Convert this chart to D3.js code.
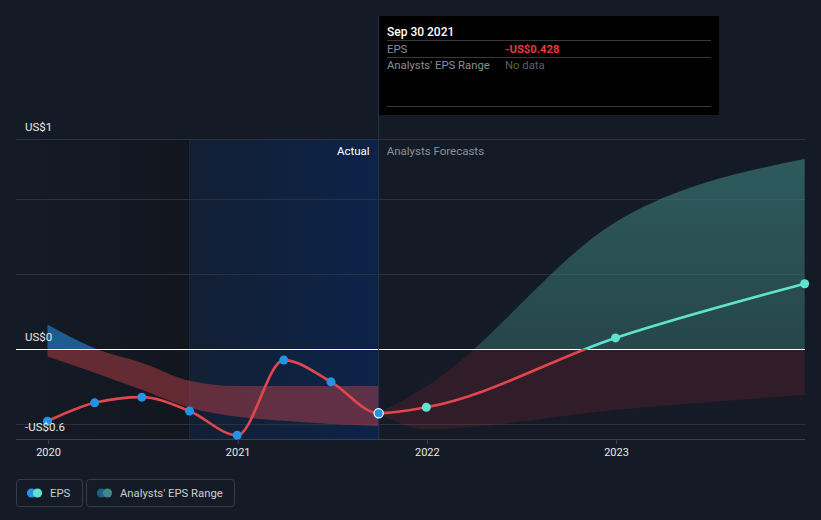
<!DOCTYPE html>
<html><head><meta charset="utf-8">
<script src="https://cdn.jsdelivr.net/npm/d3@7"></script>
<style>
html,body{margin:0;padding:0;background:#151b26;}
svg{display:block;font-family:Roboto,"Open Sans",sans-serif;}
</style></head>
<body><svg id="chart" width="821" height="520"></svg>
<script>
// ---------- data ----------
const actualDates = ["2019-12-31","2020-03-31","2020-06-30","2020-09-30","2020-12-31","2021-03-31","2021-06-30","2021-09-30"];
const actualEPS   = [-0.482, -0.359, -0.321, -0.413, -0.575, -0.074, -0.219, -0.428];
const pastRangeHigh = [0.163, 0.005, -0.092, -0.212, -0.247, -0.247, -0.247, -0.247];
const pastRangeLow  = [-0.05, -0.159, -0.272, -0.392, -0.451, -0.478, -0.5, -0.513];
const forecastDates = ["2021-09-30","2021-12-31","2022-12-31","2023-12-31"];
const forecastEPS   = [-0.428, -0.388, 0.074, 0.435];
const forecastHigh  = [-0.428, -0.25, 0.845, 1.266];
const forecastLow   = [-0.428, -0.535, -0.406, -0.306];
const xTickYears = ["2020","2021","2022","2023"];
const yGridValues = [1.4, 1, 0.5, 0, -0.5];
const yTickValues = [1.4, 0, -0.6];
const yTickLabels = ["US$1", "US$0", "-US$0.6"];
const tooltipDate = "Sep 30 2021";
const tooltipEPS = "-US$0.428";
const legendItems = ["EPS", "Analysts' EPS Range"];

// ---------- setup ----------
const parse = d3.timeParse("%Y-%m-%d");
const svg = d3.select("#chart");
const x = d3.scaleTime().domain([parse("2020-01-01"), parse("2023-01-01")]).range([48, 616]);
const y = d3.scaleLinear().domain([-0.6, 1.4]).range([439, 139]);
const left = 16, right = 805;
const y0 = y(0);
const actual = actualDates.map((d,i)=>({date:parse(d), v:actualEPS[i], hi:pastRangeHigh[i], lo:pastRangeLow[i]}));
const forecast = forecastDates.map((d,i)=>({date:parse(d), v:forecastEPS[i], hi:forecastHigh[i], lo:forecastLow[i]}));
const lastActual = actual[actual.length-1];
const xNow = x(lastActual.date);
const xYearAgo = x(parse("2020-09-30"));

const defs = svg.append("defs");
const gLeft = defs.append("linearGradient").attr("id","gLeft").attr("x1","0").attr("x2","1").attr("y1","0").attr("y2","0");
gLeft.append("stop").attr("offset","0").attr("stop-color","#000").attr("stop-opacity",0);
gLeft.append("stop").attr("offset","1").attr("stop-color","#000").attr("stop-opacity",0.2);
const gBlue = defs.append("linearGradient").attr("id","gBlue").attr("x1","0").attr("x2","1").attr("y1","0").attr("y2","0");
gBlue.append("stop").attr("offset","0").attr("stop-color","#0a2a5a").attr("stop-opacity",0.25);
gBlue.append("stop").attr("offset","1").attr("stop-color","#0a2450").attr("stop-opacity",0.8);
const gTeal = defs.append("linearGradient").attr("id","gTeal").attr("gradientUnits","userSpaceOnUse")
  .attr("x1",0).attr("x2",0).attr("y1",139).attr("y2",y0);
gTeal.append("stop").attr("offset","0").attr("stop-color","#3f8582").attr("stop-opacity",0.62);
gTeal.append("stop").attr("offset","1").attr("stop-color","#3a7c78").attr("stop-opacity",0.45);
const gLine = defs.append("linearGradient").attr("id","gLine").attr("gradientUnits","userSpaceOnUse")
  .attr("x1",0).attr("x2",0).attr("y1",139).attr("y2",439);
const zf = (y0-139)/300;
gLine.append("stop").attr("offset",zf).attr("stop-color","#5ee3cf");
gLine.append("stop").attr("offset",zf).attr("stop-color","#e0474c");
defs.append("clipPath").attr("id","above").append("rect").attr("x",0).attr("y",0).attr("width",821).attr("height",y0);
defs.append("clipPath").attr("id","below").append("rect").attr("x",0).attr("y",y0).attr("width",821).attr("height",520-y0);

// backgrounds
svg.append("rect").attr("x",left).attr("y",139).attr("width",xYearAgo-left).attr("height",300).attr("fill","url(#gLeft)");
svg.append("rect").attr("x",xYearAgo).attr("y",139).attr("width",xNow-xYearAgo).attr("height",300).attr("fill","url(#gBlue)");
svg.append("line").attr("x1",xYearAgo).attr("x2",xYearAgo).attr("y1",139).attr("y2",439).attr("stroke","#1a2a42").attr("stroke-width",1);

// grid
svg.selectAll(".grid").data(yGridValues).join("line")
  .attr("x1",left).attr("x2",right).attr("y1",d=>Math.round(y(d))+0.5).attr("y2",d=>Math.round(y(d))+0.5)
  .attr("stroke",d=>d===0?"none":"#2c323c").attr("stroke-width",1);
svg.append("line").attr("x1",left).attr("x2",right).attr("y1",439.5).attr("y2",439.5).attr("stroke","#3a3f48");

// bands
const area = d3.area().x(d=>x(d.date)).y0(d=>y(d.lo)).y1(d=>y(d.hi)).curve(d3.curveMonotoneX);
svg.append("path").datum(actual).attr("d",area).attr("clip-path","url(#above)").attr("fill","#2068a6").attr("fill-opacity",0.85);
svg.append("path").datum(actual).attr("d",area).attr("clip-path","url(#below)").attr("fill","#c8424a").attr("fill-opacity",0.45);
svg.append("path").datum(forecast).attr("d",area).attr("clip-path","url(#above)").attr("fill","url(#gTeal)");
svg.append("path").datum(forecast).attr("d",area).attr("clip-path","url(#below)").attr("fill","#a02838").attr("fill-opacity",0.2);

// zero line
svg.append("line").attr("x1",left).attr("x2",right).attr("y1",Math.round(y0)+0.5).attr("y2",Math.round(y0)+0.5).attr("stroke","#ffffff").attr("stroke-width",1.2);

// tooltip vertical line
svg.append("line").attr("x1",xNow).attr("x2",xNow).attr("y1",16).attr("y2",439).attr("stroke","#203552").attr("stroke-width",1);

// line
const all = actual.concat(forecast.slice(1));
const line = d3.line().x(d=>x(d.date)).y(d=>y(d.v)).curve(d3.curveMonotoneX);
svg.append("path").datum(all).attr("d",line).attr("fill","none").attr("stroke","url(#gLine)").attr("stroke-width",2.6);

// points
svg.selectAll(".pa").data(actual).join("circle")
  .attr("cx",d=>x(d.date)).attr("cy",d=>y(d.v)).attr("r",(d,i)=>i===actual.length-1?4.6:4.5)
  .attr("fill","#2394e3").attr("stroke",(d,i)=>i===actual.length-1?"#ffffff":"none").attr("stroke-width",1.2);
svg.selectAll(".pf").data(forecast.slice(1)).join("circle")
  .attr("cx",d=>x(d.date)).attr("cy",d=>y(d.v)).attr("r",4.5).attr("fill","#5ee3cf");

// y labels
svg.selectAll(".yl").data(yTickValues).join("text")
  .attr("x",25).attr("y",d=>y(d)-8).attr("fill","#e6e8ea").attr("font-size",11.5)
  .text((d,i)=>yTickLabels[i]);

// x axis
const xAxis = d3.axisBottom(x).tickValues(xTickYears.map(d=>parse(d+"-01-01"))).tickFormat(d3.timeFormat("%Y")).tickSize(5).tickPadding(4);
const gx = svg.append("g").attr("transform","translate(0,439)").call(xAxis);
gx.select(".domain").remove();
gx.selectAll(".tick line").attr("stroke","#3a3f48");
gx.selectAll(".tick text").attr("fill","#e6e8ea").attr("font-size",11).attr("font-family","Roboto, sans-serif");

// Actual / Forecast labels
svg.append("text").attr("x",xNow-9).attr("y",155).attr("text-anchor","end").attr("fill","#ffffff").attr("font-size",11.5).text("Actual");
svg.append("text").attr("x",xNow+8).attr("y",155).attr("fill","#8a9099").attr("font-size",11.5).text("Analysts Forecasts");

// tooltip
const tt = svg.append("g");
tt.append("rect").attr("x",379).attr("y",16).attr("width",340).attr("height",99).attr("fill","#000000");
tt.append("text").attr("x",387).attr("y",35.5).attr("fill","#ffffff").attr("font-size",12).attr("font-weight",500).text(tooltipDate);
[40.5,57.5,106.5].forEach(v=>tt.append("line").attr("x1",387).attr("x2",711).attr("y1",v).attr("y2",v).attr("stroke","#3a3a3a"));
tt.append("text").attr("x",387).attr("y",53).attr("fill","#8a8f96").attr("font-size",11.3).text("EPS");
tt.append("text").attr("x",505).attr("y",53).attr("fill","#e8373f").attr("font-size",11.3).attr("font-weight",700).text(tooltipEPS);
tt.append("text").attr("x",387).attr("y",69).attr("fill","#8a8f96").attr("font-size",11.3).text("Analysts' EPS Range");
tt.append("text").attr("x",505).attr("y",69).attr("fill","#5c6066").attr("font-size",11.3).text("No data");

// legend
const lg = svg.append("g");
const boxes = [{x:16,w:66,c1:"#2394e3",c2:"#5ee3cf"},{x:86,w:148,c1:"#1f5f8f",c2:"#3f8a86"}];
boxes.forEach((b,i)=>{
  lg.append("rect").attr("x",b.x+0.5).attr("y",479.5).attr("width",b.w).attr("height",27).attr("rx",3)
    .attr("fill","none").attr("stroke","#363c47");
  lg.append("circle").attr("cx",b.x+15.5).attr("cy",493).attr("r",4.6).attr("fill",b.c1);
  lg.append("circle").attr("cx",b.x+21.5).attr("cy",493).attr("r",4.6).attr("fill",b.c2);
  lg.append("text").attr("x",b.x+34).attr("y",497).attr("fill","#c9cdd3").attr("font-size",11.3).text(legendItems[i]);
});
</script></body></html>
